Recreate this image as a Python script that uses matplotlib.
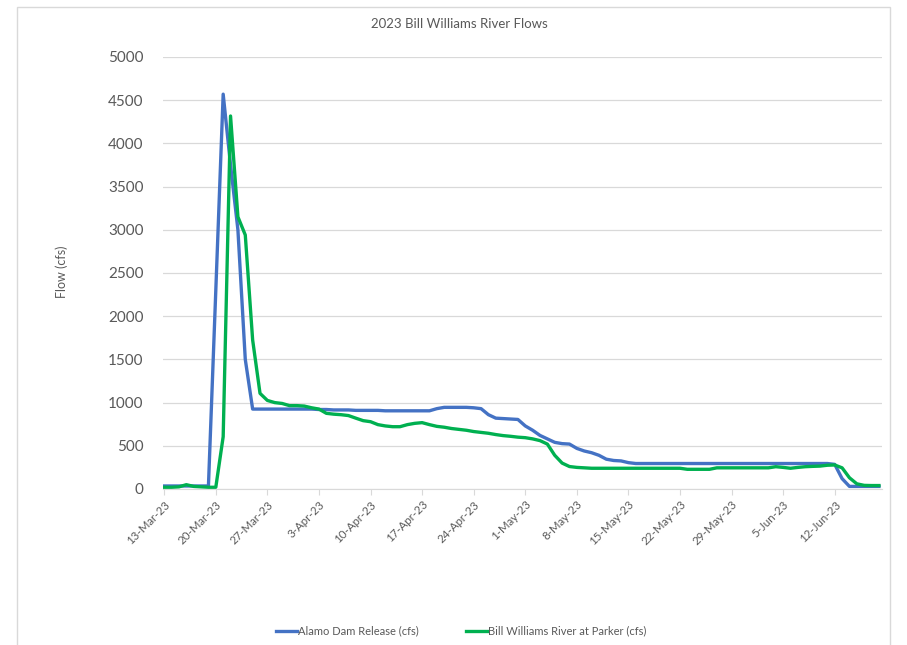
import matplotlib
matplotlib.use("Agg")
import matplotlib.pyplot as plt
import matplotlib.dates as mdates
from matplotlib.patches import Rectangle
import pandas as pd
import numpy as np

dates = pd.date_range("2023-03-13", "2023-06-18", freq="D")

alamo = ([35] * 7 + [2300, 4570, 3750, 3000, 1500, 925]
         + [925] * 8
         + [920, 920, 915, 915, 915, 910, 910, 910, 910, 905, 905, 905, 905, 905, 905, 905]
         + [930]
         + [945, 945, 945, 945, 940]
         + [930, 860, 820, 815, 810, 805, 730, 680, 620, 580, 540, 525, 520, 470, 440,
            420, 390, 345, 330, 325, 305]
         + [295] * 27
         + [285, 120]
         + [30] * 5)

parker = ([20, 20, 25, 50, 30, 25, 20, 20]
          + [605, 4317, 3150, 2940, 1725, 1107, 1025, 1000, 990, 965, 965, 960, 940, 925,
             876, 866, 860, 850, 820, 791, 779, 745, 730, 721, 721, 745, 760, 768, 745, 725,
             715, 700, 690, 680, 665, 655, 645, 630, 618, 610, 600, 594, 580, 560, 520, 390,
             300, 260, 250, 245]
          + [240] * 13
          + [228] * 4
          + [245] * 8
          + [258, 250, 240, 250, 258, 262, 265, 275, 278, 245, 130, 60, 42, 40, 40])

title = "2023 Bill Williams River Flows"
ylabel = "Flow (cfs)"
series_names = ["Alamo Dam Release (cfs)", "Bill Williams River at Parker (cfs)"]
yticks = [0, 500, 1000, 1500, 2000, 2500, 3000, 3500, 4000, 4500, 5000]

plt.rcParams['font.family'] = ['Lato', 'DejaVu Sans']
txt = "#595959"
grid = "#D9D9D9"

fig = plt.figure(figsize=(9.07, 6.45), dpi=100)
fig.patches.append(Rectangle((17 / 907, -0.01), (890 - 17) / 907, 1 - 7 / 645 + 0.01,
                             transform=fig.transFigure, fill=False, edgecolor=grid, lw=1.0))

ax = fig.add_axes([163 / 907, 1 - 489 / 645, (882 - 163) / 907, (489 - 57) / 645])
ax.plot(dates, alamo, color="#4472C4", lw=2.4, label=series_names[0], solid_joinstyle="round")
ax.plot(dates, parker, color="#00B050", lw=2.4, label=series_names[1], solid_joinstyle="round")

ax.set_ylim(0, 5000)
ax.set_yticks(yticks)
ax.set_xlim(dates[0] - pd.Timedelta(hours=4), dates[-1] + pd.Timedelta(hours=10))
xt = pd.date_range("2023-03-13", "2023-06-12", freq="7D")
ax.set_xticks(xt)
ax.set_xticklabels([f"{d.day}-{d.strftime('%b')}-23" for d in xt], rotation=45,
                   ha="right", rotation_mode="anchor", fontsize=8.3, color=txt)
ax.tick_params(axis="x", length=4, color=grid, pad=3)
ax.tick_params(axis="y", length=0, pad=14, labelsize=11, labelcolor=txt)
ax.grid(axis="y", color=grid, lw=0.9)
ax.set_axisbelow(True)
for s in ["top", "right", "left"]:
    ax.spines[s].set_visible(False)
ax.spines["bottom"].set_color(grid)

fig.text(459 / 907, 1 - 24 / 645, title, ha="center", va="center", fontsize=9.5, color=txt)
fig.text(62 / 907, 1 - 272 / 645, ylabel, ha="center", va="center", rotation=90,
         fontsize=9, color=txt)

fig.legend(loc="center", bbox_to_anchor=(461 / 907, 1 - 631 / 645), ncol=2, frameon=False,
           fontsize=8, labelcolor=txt, handlelength=1.9, handletextpad=0.1, columnspacing=4.2)

fig.savefig("out.png", dpi=100)
